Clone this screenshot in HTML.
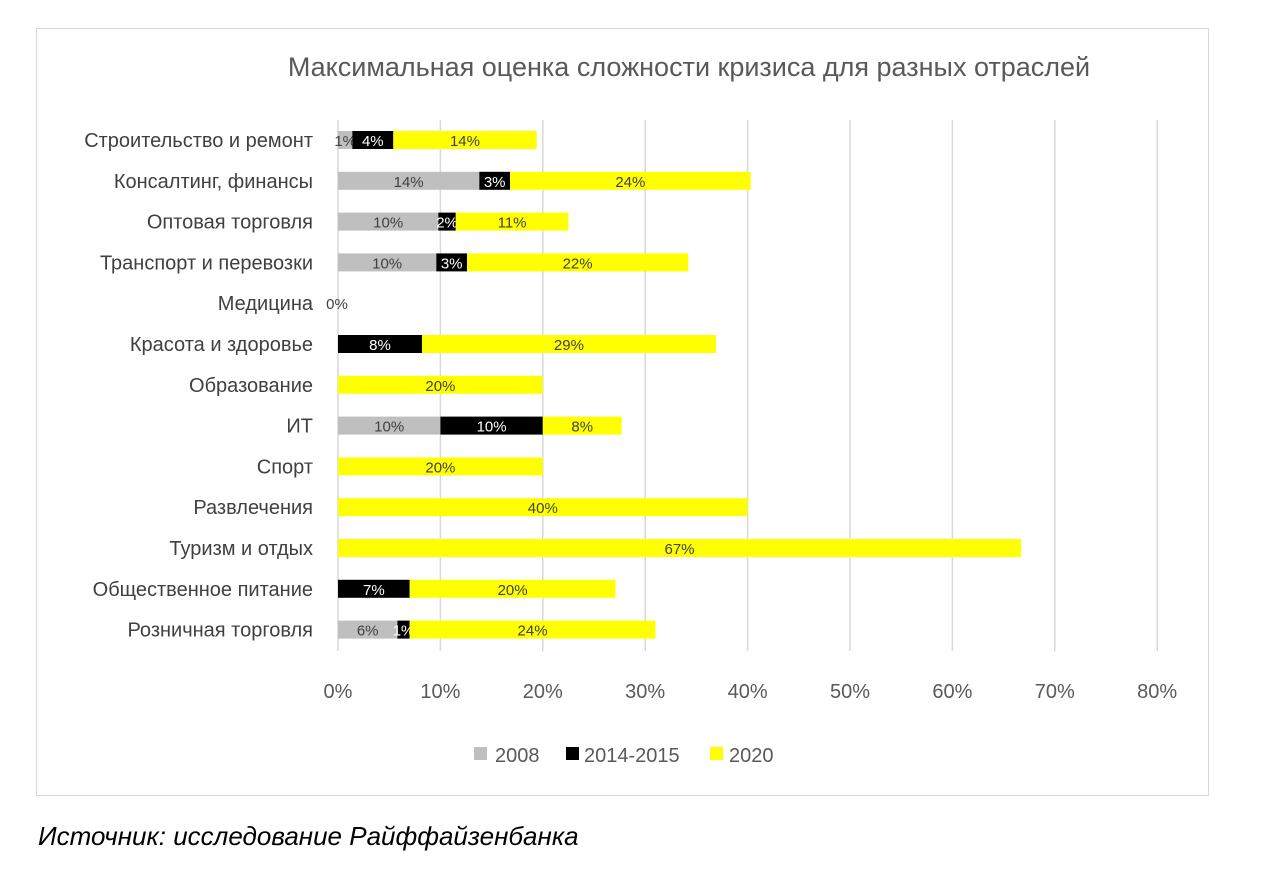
<!DOCTYPE html>
<html><head><meta charset="utf-8"><style>
body{margin:0;background:#fff;width:1280px;height:880px;overflow:hidden;font-family:"Liberation Sans",sans-serif}
</style></head><body>
<svg width="1280" height="880" xmlns="http://www.w3.org/2000/svg">
<rect x="36.5" y="28.5" width="1172" height="767" fill="#fff" stroke="#d9d9d9"/>
<text x="689" y="76" font-size="27" fill="#595959" text-anchor="middle">Максимальная оценка сложности кризиса для разных отраслей</text>
<g id="grid"></g><g id="bars"></g><g id="cats"></g><g id="ticks"></g>
<g font-size="20" fill="#595959">
<rect x="474" y="747" width="13" height="13" fill="#bfbfbf"/>
<text x="495" y="762">2008</text>
<rect x="566" y="747" width="13" height="13" fill="#000"/>
<text x="584" y="762">2014-2015</text>
<rect x="710" y="747" width="13" height="13" fill="#ffff00"/>
<text x="729" y="762">2020</text>
</g>
<text x="38" y="845" font-size="26" font-style="italic" fill="#000">Источник: исследование Райффайзенбанка</text>
</svg>
<script>
const categories=["Строительство и ремонт","Консалтинг, финансы","Оптовая торговля","Транспорт и перевозки","Медицина","Красота и здоровье","Образование","ИТ","Спорт","Развлечения","Туризм и отдых","Общественное питание","Розничная торговля"];
const s2008=[1.4,13.8,9.8,9.6,0,0,0,10,0,0,0,0,5.8];
const s2014=[4,3,1.7,3,0,8.2,0,10,0,0,0,7,1.2];
const s2020=[14,23.5,11,21.6,0,28.7,20,7.7,20,40,66.7,20.1,24];
const tickValues=[0,10,20,30,40,50,60,70,80];
const NS="http://www.w3.org/2000/svg";
const x=v=>338+v*10.24;
const y=i=>140+i*40.8;
function mk(tag,attrs,parent,txt){const e=document.createElementNS(NS,tag);for(const k in attrs)e.setAttribute(k,attrs[k]);if(txt!==undefined)e.textContent=txt;parent.appendChild(e);return e;}
const grid=document.getElementById('grid'),bars=document.getElementById('bars'),cats=document.getElementById('cats'),ticks=document.getElementById('ticks');
tickValues.forEach(t=>{
 const l=mk('line',{x1:x(t),x2:x(t),y1:120,y2:651,stroke:'#d9d9d9','stroke-width':1.5},grid);
 
 
 const tx=mk('text',{x:x(t),y:698,'font-size':20,fill:'#595959','text-anchor':'middle'},ticks,t+'%');
 
 
});
const series=[[s2008,'#bfbfbf','#404040','2008'],[s2014,'#000','#fff','2014'],[s2020,'#ffff00','#404040','2020']];
categories.forEach((c,i)=>{
 const ct=mk('text',{x:313,y:y(i)+7,'font-size':20,fill:'#404040','text-anchor':'end'},cats,c);
 
 
 let acc=0,total=0;
 series.forEach(([arr,col,tc,nm])=>{
  const v=arr[i];
  if(v>0){
   const r=mk('rect',{x:x(acc),y:y(i)-9,width:x(acc+v)-x(acc),height:18,fill:col},bars);
   
   
   const t=mk('text',{x:(x(acc)+x(acc+v))/2,y:y(i)+6,'font-size':15,fill:tc,'text-anchor':'middle'},bars,Math.round(v)+'%');
   
   
  }
  acc+=v;total+=v;
 });
 if(total===0){
  const t=mk('text',{x:337,y:y(i)+6,'font-size':15,fill:'#404040','text-anchor':'middle'},bars,'0%');
  
  
 }
});
</script>
</body></html>
